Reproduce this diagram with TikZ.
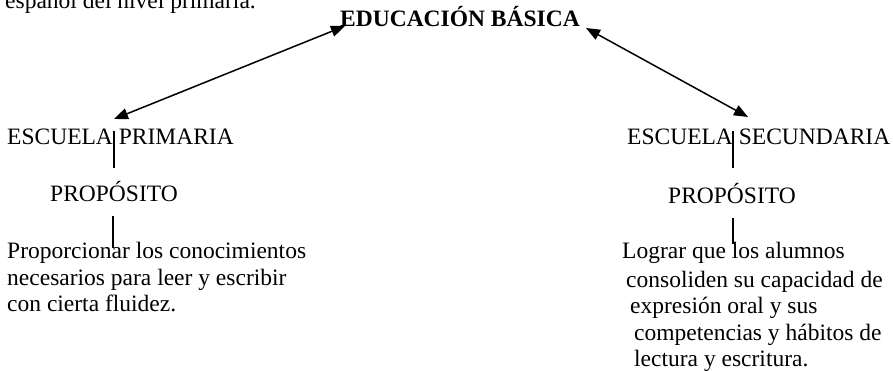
\documentclass[tikz,border=0pt]{standalone}
\usepackage{fontspec}
\setmainfont{Liberation Serif}
\usetikzlibrary{arrows.meta}
\begin{document}
\begin{tikzpicture}[x=1pt,y=-1pt,
  txt/.style={anchor=base west, inner sep=0pt, font=\fontsize{23.5}{27}\selectfont},
  ttl/.style={anchor=base west, inner sep=0pt, font=\bfseries\fontsize{23.5}{27}\selectfont},
  conn/.style={line width=1.3pt},
  dbl/.style={line width=1.5pt, {Triangle[length=14pt,width=11pt]}-{Triangle[length=14pt,width=11pt]}}]
\useasboundingbox (0,0) rectangle (893,370);
\clip (0,0) rectangle (893,370);
% cut-off line above the diagram
\node[txt] (intro) at (5,8) {español del nivel primaria.};
% title
\node[ttl] (edu) at (340,26) {EDUCACIÓN BÁSICA};
% left branch
\node[txt] (prim) at (7,144) {ESCUELA PRIMARIA};
\node[txt] (propL) at (50,201) {PROPÓSITO};
\node[txt] (pl1) at (7,258) {Proporcionar los conocimientos};
\node[txt] (pl2) at (7,285) {necesarios para leer y escribir};
\node[txt] (pl3) at (7,311) {con cierta fluidez.};
% right branch
\node[txt] (sec) at (627,144) {ESCUELA SECUNDARIA};
\node[txt] (propR) at (668,203) {PROPÓSITO};
\node[txt] (pr1) at (622,258) {Lograr que los alumnos};
\node[txt] (pr2) at (626,287) {consoliden su capacidad de};
\node[txt] (pr3) at (630,313) {expresión oral y sus};
\node[txt] (pr4) at (634,340) {competencias y hábitos de};
\node[txt] (pr5) at (634,366) {lectura y escritura.};
% arrow ends
\coordinate (eduL) at (345,26);
\coordinate (eduR) at (586,28);
\coordinate (primT) at (114,119);
\coordinate (secT) at (748,117);
\draw[dbl] (eduL) -- (primT);
\draw[dbl] (eduR) -- (secT);
% vertical connectors
\coordinate (l1a) at (114,131);
\coordinate (l1b) at (114,168);
\coordinate (l2a) at (113,216);
\coordinate (l2b) at (113,248);
\coordinate (r1a) at (733,131);
\coordinate (r1b) at (733,168);
\coordinate (r2a) at (733,218);
\coordinate (r2b) at (733,244);
\draw[conn] (l1a) -- (l1b);
\draw[conn] (l2a) -- (l2b);
\draw[conn] (r1a) -- (r1b);
\draw[conn] (r2a) -- (r2b);
\end{tikzpicture}
\end{document}
